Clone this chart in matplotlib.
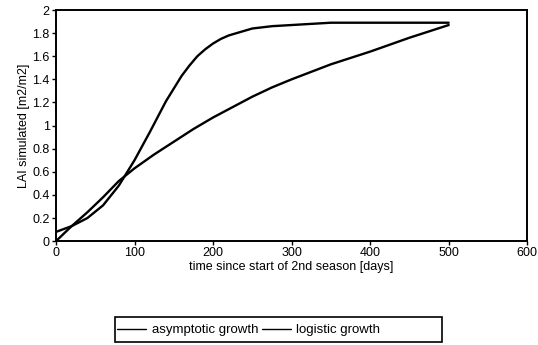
import matplotlib
matplotlib.use("Agg")
import matplotlib.pyplot as plt
from matplotlib.patches import Rectangle

plt.rcParams['font.family'] = ['Liberation Sans', 'DejaVu Sans']

# Simulated leaf area index during the second season
days_asymptotic = [0, 20, 40, 60, 80, 100, 125, 150, 175, 200, 225, 250, 275, 300, 350, 400, 450, 500]
lai_asymptotic = [0.0, 0.13, 0.25, 0.38, 0.52, 0.63, 0.75, 0.86, 0.97, 1.07, 1.16, 1.25, 1.33, 1.40, 1.53, 1.64, 1.76, 1.87]

days_logistic = [0, 20, 40, 60, 80, 100, 120, 140, 160, 170, 180, 190, 200, 210, 220, 235, 250, 275, 300, 325, 350, 400, 500]
lai_logistic = [0.08, 0.13, 0.20, 0.31, 0.48, 0.70, 0.95, 1.21, 1.43, 1.52, 1.60, 1.66, 1.71, 1.75, 1.78, 1.81, 1.84, 1.86, 1.87, 1.88, 1.89, 1.89, 1.89]

series_names = ["asymptotic growth", "logistic growth"]
x_ticks = [0, 100, 200, 300, 400, 500, 600]
y_ticks = [0, 0.2, 0.4, 0.6, 0.8, 1, 1.2, 1.4, 1.6, 1.8, 2]
y_tick_labels = ["0", "0.2", "0.4", "0.6", "0.8", "1", "1.2", "1.4", "1.6", "1.8", "2"]

fig = plt.figure(figsize=(5.38, 3.45), dpi=100)
ax = fig.add_axes([0.104, 0.301, 0.876, 0.670])

l1, = ax.plot(days_asymptotic, lai_asymptotic, color="black", lw=1.7,
              solid_joinstyle="round", solid_capstyle="round")
l2, = ax.plot(days_logistic, lai_logistic, color="black", lw=1.7,
              solid_joinstyle="round", solid_capstyle="round")

ax.set_xlim(0, 600)
ax.set_ylim(0, 2)
ax.set_xticks(x_ticks)
ax.set_yticks(y_ticks)
ax.set_yticklabels(y_tick_labels)
ax.tick_params(direction="out", length=3, width=1, labelsize=9, pad=1.5, color="black")
for s in ax.spines.values():
    s.set_linewidth(1.4)

ax.set_xlabel("time since start of 2nd season [days]", fontsize=9, labelpad=1)
ax.set_ylabel("LAI simulated [m2/m2]", fontsize=9, labelpad=2)

# legend entries, with a wider outline box drawn around them
leg = fig.legend([l1, l2], series_names, loc="center left",
                 bbox_to_anchor=(0.218, 0.043),
                 ncol=2, frameon=False, fontsize=9.5,
                 handlelength=2.2, handletextpad=0.4, columnspacing=0.3,
                 borderpad=0, borderaxespad=0)
for h in leg.get_lines():
    h.set_linewidth(1.0)

fig.patches.append(Rectangle((0.2138, 0.0087), 0.6078, 0.0725, transform=fig.transFigure,
                             fill=False, edgecolor="black", linewidth=1.2))

fig.savefig("out.png", dpi=100)
